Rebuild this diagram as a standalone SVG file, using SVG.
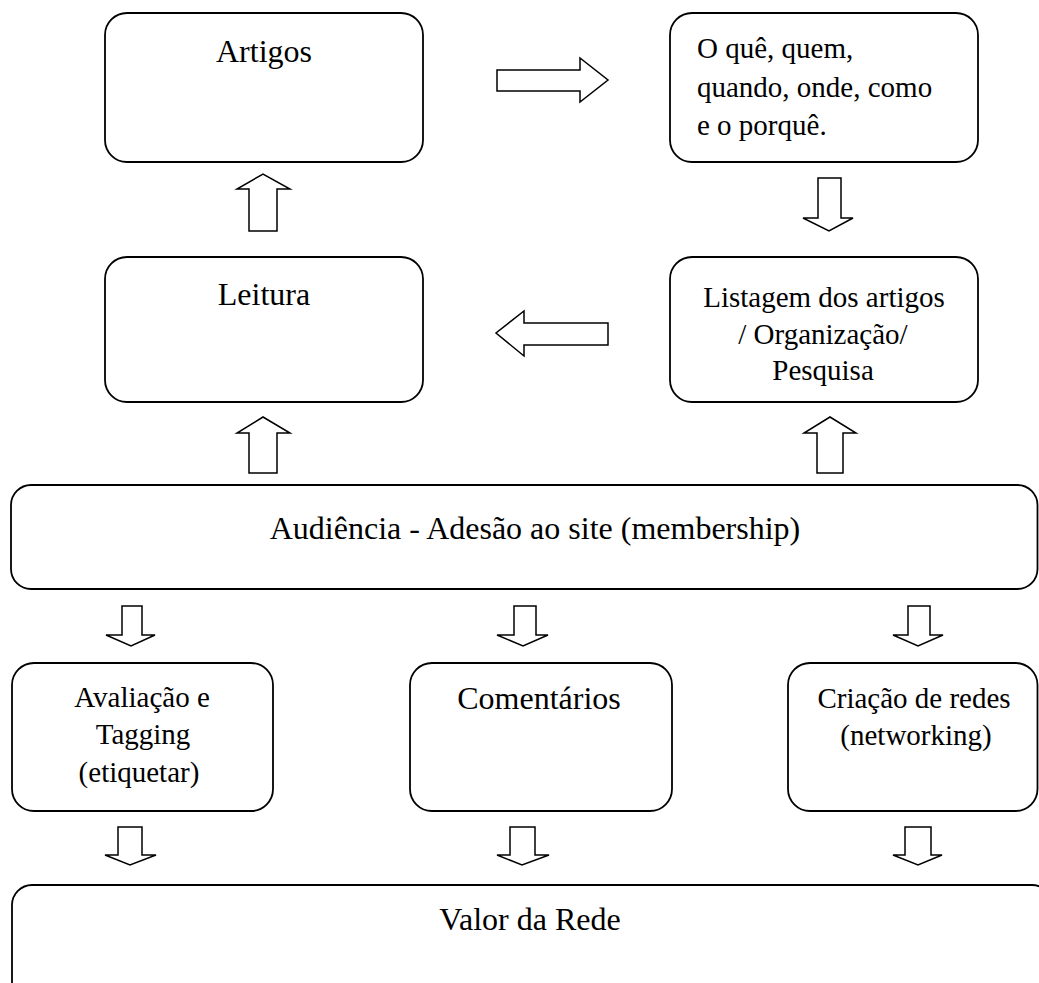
<svg xmlns="http://www.w3.org/2000/svg" width="1039" height="983" viewBox="0 0 1039 983">
<style>
.box{fill:#fff;stroke:#000;stroke-width:1.8}
.arr{fill:#fff;stroke:#000;stroke-width:1.5;stroke-linejoin:miter}
.t{font-family:"Liberation Serif","Times New Roman",Times,serif;font-size:29px;fill:#000}
.L{font-size:32px}
.c{text-anchor:middle}
</style>
<rect width="1039" height="983" fill="#fff"/>
<g id="connectors">
<polygon class="arr" points="497,70 580,70 580,58 608,80 580,102 580,91 497,91"/>
<polygon class="arr" points="818,178 841,178 841,218 853,218 829,231 803,218 818,218"/>
<polygon class="arr" points="608,323 524,323 524,311 496,333 524,356 524,345 608,345"/>
<polygon class="arr" points="249,231 249,189 237,189 263,174 290,189 277,189 277,231"/>
<polygon class="arr" points="249,473 249,433 237,433 263,417 290,433 277,433 277,473"/>
<polygon class="arr" points="817,473 817,433 804,433 830,417 856,433 843,433 843,473"/>
<polygon class="arr" points="122,606 142,606 142,635 155,635 131,646 106,635 122,635"/>
<polygon class="arr" points="514,606 536,606 536,635 548,635 523,646 497,635 514,635"/>
<polygon class="arr" points="908,606 930,606 930,635 943,635 918,646 893,635 908,635"/>
<polygon class="arr" points="118,827 142,827 142,855 156,855 130,865 105,855 118,855"/>
<polygon class="arr" points="510,827 535,827 535,855 549,855 522,865 497,855 510,855"/>
<polygon class="arr" points="905,827 931,827 931,855 942,855 918,865 893,855 905,855"/>
</g>
<g id="artigos">
<rect class="box" x="105" y="13" width="318" height="149" rx="22"/>
<text class="t L c" x="264" y="62">Artigos</text>
</g>
<g id="perguntas">
<rect class="box" x="670" y="13" width="308" height="149" rx="22"/>
<text class="t" x="697" y="58">O quê, quem,</text>
<text class="t" x="697" y="97">quando, onde, como</text>
<text class="t" x="697" y="135">e o porquê.</text>
</g>
<g id="leitura">
<rect class="box" x="105" y="257" width="318" height="145" rx="22"/>
<text class="t L c" x="264" y="305">Leitura</text>
</g>
<g id="listagem">
<rect class="box" x="670" y="257" width="308" height="145" rx="22"/>
<text class="t c" x="824" y="307">Listagem dos artigos</text>
<text class="t c" x="823" y="344">/ Organização/</text>
<text class="t c" x="823" y="380">Pesquisa</text>
</g>
<g id="audiencia">
<rect class="box" x="11" y="485" width="1026.5" height="104" rx="20"/>
<text class="t L c" x="535" y="539">Audiência - Adesão ao site (membership)</text>
</g>
<g id="avaliacao">
<rect class="box" x="12" y="663" width="261" height="148" rx="22"/>
<text class="t c" x="142" y="707">Avaliação e</text>
<text class="t c" x="143" y="744">Tagging</text>
<text class="t c" x="139" y="782">(etiquetar)</text>
</g>
<g id="comentarios">
<rect class="box" x="410" y="663" width="262" height="148" rx="22"/>
<text class="t L c" x="539" y="709">Comentários</text>
</g>
<g id="criacao">
<rect class="box" x="788" y="663" width="249.5" height="148" rx="22"/>
<text class="t c" x="914" y="708">Criação de redes</text>
<text class="t c" x="916" y="745">(networking)</text>
</g>
<g id="valor">
<rect class="box" x="12" y="885" width="1040" height="120" rx="20"/>
<text class="t L c" x="530" y="930">Valor da Rede</text>
</g>
</svg>
